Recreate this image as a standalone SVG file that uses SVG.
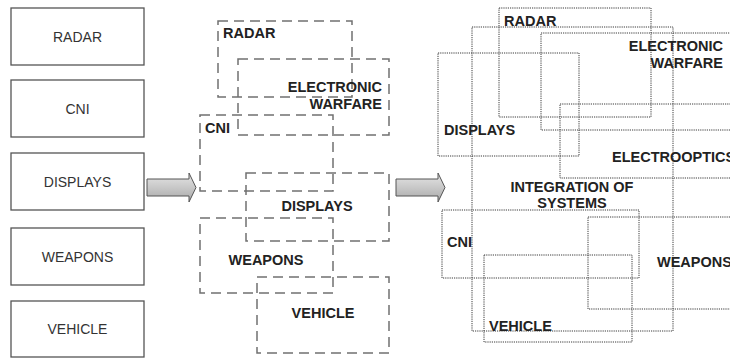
<svg xmlns="http://www.w3.org/2000/svg" width="730" height="358" viewBox="0 0 730 358">
<defs>
<linearGradient id="ag" x1="0" y1="0" x2="0" y2="1">
<stop offset="0" stop-color="#e6e6e6"/>
<stop offset="0.5" stop-color="#c8c8c8"/>
<stop offset="1" stop-color="#a8a8a8"/>
</linearGradient>
<style>
.solid{fill:#fff;stroke:#555;stroke-width:1.3}
.dash{fill:none;stroke:#707070;stroke-width:1.5;stroke-dasharray:10,6}
.dot{fill:none;stroke:#3a3a3a;stroke-width:1;stroke-dasharray:1.2,1}
.lt{font-family:"Liberation Sans",Arial,sans-serif;font-size:14px;fill:#333;text-anchor:middle}
.bt{font-family:"Liberation Sans",Arial,sans-serif;font-size:14.5px;font-weight:bold;fill:#222}
.arr{fill:url(#ag);stroke:#555;stroke-width:1}
</style>
</defs>
<rect width="730" height="358" fill="#fff"/>

<g id="left-radar"><rect class="solid" x="11" y="8" width="133" height="57"/><text class="lt" x="77.5" y="41.5">RADAR</text></g>
<g id="left-cni"><rect class="solid" x="11" y="80" width="133" height="57"/><text class="lt" x="77.5" y="113.5">CNI</text></g>
<g id="left-displays"><rect class="solid" x="11" y="153" width="133" height="57"/><text class="lt" x="77.5" y="186.5">DISPLAYS</text></g>
<g id="left-weapons"><rect class="solid" x="11" y="228" width="133" height="57"/><text class="lt" x="77.5" y="261.5">WEAPONS</text></g>
<g id="left-vehicle"><rect class="solid" x="11" y="301" width="133" height="56"/><text class="lt" x="77.5" y="334">VEHICLE</text></g>

<g id="mid-radar"><rect class="dash" x="218" y="21" width="134" height="76"/><text class="bt" x="223" y="38">RADAR</text></g>
<g id="mid-ew"><rect class="dash" x="238" y="59" width="151" height="76"/><text class="bt" x="382" y="92" text-anchor="end">ELECTRONIC</text><text class="bt" x="382" y="109" text-anchor="end">WARFARE</text></g>
<g id="mid-cni"><rect class="dash" x="200" y="115" width="133" height="76"/><text class="bt" x="205" y="133">CNI</text></g>
<g id="mid-displays"><rect class="dash" x="246" y="173" width="143" height="68"/><text class="bt" x="317" y="211" text-anchor="middle">DISPLAYS</text></g>
<g id="mid-weapons"><rect class="dash" x="200" y="218" width="133" height="75"/><text class="bt" x="266" y="265" text-anchor="middle">WEAPONS</text></g>
<g id="mid-vehicle"><rect class="dash" x="257" y="277" width="132" height="76"/><text class="bt" x="323" y="318" text-anchor="middle">VEHICLE</text></g>

<g id="r-integration"><rect class="dot" x="472" y="27" width="201" height="304"/><text class="bt" x="572" y="192" text-anchor="middle">INTEGRATION OF</text><text class="bt" x="572" y="208" text-anchor="middle">SYSTEMS</text></g>
<g id="r-radar"><rect class="dot" x="499" y="8" width="152" height="109"/><text class="bt" x="504" y="26">RADAR</text></g>
<g id="r-ew"><rect class="dot" x="541" y="33" width="200" height="97"/><text class="bt" x="723" y="51" text-anchor="end">ELECTRONIC</text><text class="bt" x="723" y="68" text-anchor="end">WARFARE</text></g>
<g id="r-displays"><rect class="dot" x="438" y="53" width="141" height="103"/><text class="bt" x="444" y="135">DISPLAYS</text></g>
<g id="r-electrooptics"><rect class="dot" x="560" y="104" width="180" height="74"/><text class="bt" x="612" y="162">ELECTROOPTICS</text></g>
<g id="r-cni"><rect class="dot" x="442" y="210" width="197" height="68"/><text class="bt" x="447" y="247">CNI</text></g>
<g id="r-weapons"><rect class="dot" x="588" y="217" width="152" height="92"/><text class="bt" x="657" y="267">WEAPONS</text></g>
<g id="r-vehicle"><rect class="dot" x="484" y="255" width="148" height="87"/><text class="bt" x="489" y="331">VEHICLE</text></g>

<g id="connectors">
<path class="arr" d="M147,179 H189 V173 L196,187.5 L189,202 V196 H147 Z"/>
<path class="arr" d="M396,179 H438 V173 L445,187.5 L438,202 V196 H396 Z"/>
</g>
</svg>
